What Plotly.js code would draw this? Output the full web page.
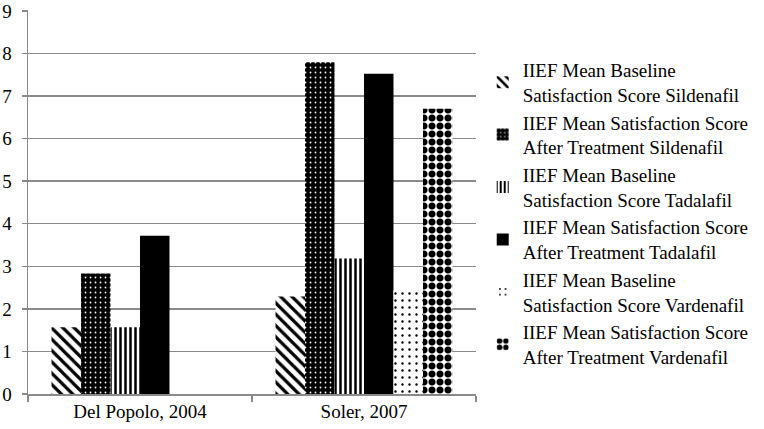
<!DOCTYPE html>
<html>
<head>
<meta charset="utf-8">
<script src="https://cdn.plot.ly/plotly-3.0.1.min.js"></script>
<style>
  html, body { margin: 0; padding: 0; background: #fff; }
  #chart { width: 764px; height: 429px; }
</style>
</head>
<body>
<div id="chart"></div>
<script>
// studies on the x axis
const studies = ['Del Popolo, 2004', 'Soler, 2007'];

// IIEF satisfaction scores
const baseSildenafil = [1.57, 2.29];
const afterSildenafil = [2.83, 7.79];
const baseTadalafil = [1.57, 3.18];
const afterTadalafil = [3.72, 7.52];
const baseVardenafil = [null, 2.45];
const afterVardenafil = [null, 6.70];

const seriesNames = [
    'IIEF Mean Baseline<br>Satisfaction Score Sildenafil',
    'IIEF Mean Satisfaction Score<br>After Treatment Sildenafil',
    'IIEF Mean Baseline<br>Satisfaction Score Tadalafil',
    'IIEF Mean Satisfaction Score<br>After Treatment Tadalafil',
    'IIEF Mean Baseline<br>Satisfaction Score Vardenafil',
    'IIEF Mean Satisfaction Score<br>After Treatment Vardenafil'
];

const yTicks = [0, 1, 2, 3, 4, 5, 6, 7, 8, 9];

const serif = 'Liberation Serif, Times New Roman, serif';
const grey = '#8a8a8a';

function bar(values, i, pattern) {
    return {
        type: 'bar',
        x: studies,
        y: values,
        name: seriesNames[i],
        legendgroup: 'g' + i,
        marker: {
            color: 'black',
            line: { width: 0 },
            pattern: pattern
        },
        hoverinfo: 'skip'
    };
}

const data = [
    bar(baseSildenafil, 0, { shape: '\\', fgcolor: 'black', bgcolor: 'white', size: 8, solidity: 0.4 }),
    bar(afterSildenafil, 1, { shape: '.', fgcolor: 'white', bgcolor: 'black', size: 5, solidity: 0.1 }),
    bar(baseTadalafil, 2, { shape: '|', fgcolor: 'black', bgcolor: 'white', size: 5, solidity: 0.5 }),
    bar(afterTadalafil, 3, { shape: '' }),
    bar(baseVardenafil, 4, { shape: '.', fgcolor: 'black', bgcolor: 'white', size: 7, solidity: 0.09 }),
    bar(afterVardenafil, 5, { shape: '.', fgcolor: 'black', bgcolor: 'white', size: 8, solidity: 0.6 })
];

const layout = {
    width: 764,
    height: 429,
    margin: { l: 28, r: 279, t: 10, b: 35 },
    paper_bgcolor: 'white',
    plot_bgcolor: 'white',
    font: { family: serif, size: 19, color: 'black' },
    barmode: 'group',
    bargap: 0.21,
    bargroupgap: 0,
    showlegend: true,
    legend: {
        x: 1.015,
        xanchor: 'left',
        y: 0.47,
        yanchor: 'middle',
        traceorder: 'grouped',
        tracegroupgap: 0,
        font: { family: serif, size: 19, color: 'black' },
        bgcolor: 'rgba(0,0,0,0)'
    },
    xaxis: {
        type: 'category',
        tickson: 'boundaries',
        ticks: 'outside',
        ticklen: 6,
        tickcolor: grey,
        tickwidth: 1.5,
        showline: true,
        linecolor: grey,
        linewidth: 1.5,
        showgrid: false,
        tickfont: { family: serif, size: 19, color: 'black' },
        fixedrange: true
    },
    yaxis: {
        range: [0, 9.02],
        tickvals: yTicks,
        ticks: 'outside',
        ticklen: 5,
        tickcolor: grey,
        tickwidth: 1.5,
        ticklabelstandoff: 6,
        showline: true,
        linecolor: grey,
        linewidth: 1.5,
        showgrid: true,
        gridcolor: grey,
        gridwidth: 1.5,
        zeroline: false,
        tickfont: { family: serif, size: 19, color: 'black' },
        fixedrange: true
    }
};

Plotly.newPlot('chart', data, layout, { displayModeBar: false, staticPlot: true });
</script>
</body>
</html>
